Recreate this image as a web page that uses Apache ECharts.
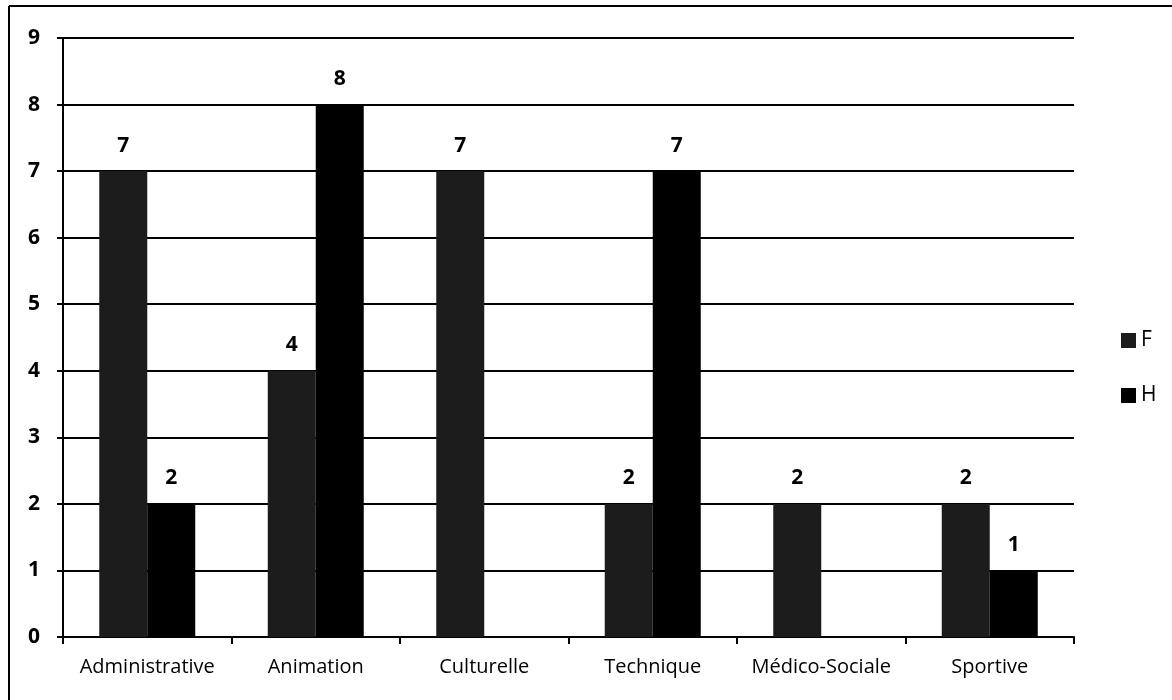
<!DOCTYPE html>
<html lang="fr">
<head>
  <meta charset="UTF-8">
  <title>F / H par catégorie</title>
  <script src="https://cdn.jsdelivr.net/npm/echarts@6/dist/echarts.min.js"></script>
  <style>
    body { margin: 0; background: #fff; }
    #chart { width: 1172px; height: 700px; }
  </style>
</head>
<body>
  <div id="chart"></div>
  <script>
    // données
    const categories = ['Administrative', 'Animation', 'Culturelle', 'Technique', 'Médico-Sociale', 'Sportive'];
    const valeursF = [7, 4, 7, 2, 2, 2];
    const valeursH = [2, 8, 0, 7, 0, 1];
    const yTicks = [0, 1, 2, 3, 4, 5, 6, 7, 8, 9];

    const font = 'Open Sans, sans-serif';
    const chart = echarts.init(document.getElementById('chart'));

    // étiquette vide pour les zéros
    const label = {
      show: true,
      position: 'top',
      distance: 15,
      color: '#000',
      fontFamily: font,
      fontSize: 21,
      fontWeight: 'bold',
      formatter: p => (p.value === 0 ? '' : p.value)
    };

    chart.setOption({
      animation: false,
      graphic: [
        { type: 'line', shape: { x1: 9, y1: 6, x2: 1172, y2: 6 }, style: { stroke: '#000', lineWidth: 2 } },
        { type: 'line', shape: { x1: 9, y1: 6, x2: 9, y2: 700 }, style: { stroke: '#000', lineWidth: 2 } }
      ],
      legend: {
        orient: 'vertical',
        left: 1116,
        top: 325,
        itemWidth: 15,
        itemHeight: 15,
        itemGap: 34,
        icon: 'rect',
        textStyle: { fontFamily: font, fontSize: 21, lineHeight: 16, color: '#000' },
        data: ['F', 'H']
      },
      grid: { left: 63, right: 98, top: 38, bottom: 63 },
      xAxis: {
        type: 'category',
        data: categories,
        axisLine: { lineStyle: { color: '#000', width: 2 } },
        axisTick: { show: true, interval: 0, length: 7, lineStyle: { color: '#000', width: 2 } },
        axisLabel: { color: '#000', fontFamily: font, fontSize: 20, margin: 20, interval: 0, hideOverlap: false }
      },
      yAxis: {
        type: 'value',
        min: yTicks[0],
        max: yTicks[yTicks.length - 1],
        interval: 1,
        axisLine: { show: true, lineStyle: { color: '#000', width: 2 } },
        axisTick: { show: true, length: 6, lineStyle: { color: '#000', width: 2 } },
        axisLabel: { color: '#000', fontFamily: font, fontSize: 21, fontWeight: 'bold', margin: 23 },
        splitLine: { lineStyle: { color: '#000', width: 2 } }
      },
      series: [
        {
          name: 'F', type: 'bar', data: valeursF,
          barWidth: 48, barGap: '0%',
          itemStyle: { color: '#1c1c1c' },
          label: label
        },
        {
          name: 'H', type: 'bar', data: valeursH,
          barWidth: 48,
          itemStyle: { color: '#000' },
          label: label
        }
      ]
    });
  </script>
</body>
</html>
